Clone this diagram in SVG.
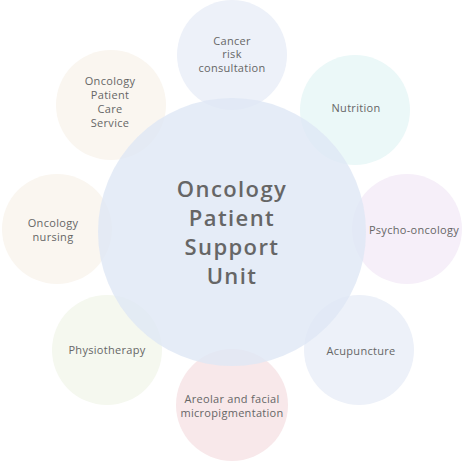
<svg xmlns="http://www.w3.org/2000/svg" width="464" height="464" viewBox="0 0 464 464">
<style>
text{font-family:"Open Sans","Liberation Sans",sans-serif;fill:#666;text-anchor:middle;dominant-baseline:central}
.s{font-size:11px;letter-spacing:0.3px}
.c{font-size:22px;font-weight:600;letter-spacing:1.4px}
</style>
<rect width="464" height="464" fill="#fff"/>
<g id="n-cancer"><circle cx="232" cy="55" r="55" fill="#edf1f9"/></g>
<g id="n-nutrition"><circle cx="355" cy="110" r="55" fill="#ebf8f8"/></g>
<g id="n-psycho"><circle cx="407" cy="229" r="55" fill="#f6eff9"/></g>
<g id="n-acup"><circle cx="359" cy="350" r="55" fill="#edf1f9"/></g>
<g id="n-areolar"><circle cx="232" cy="405" r="56" fill="#f8e8ea"/></g>
<g id="n-physio"><circle cx="107" cy="350" r="55" fill="#f5f8ef"/></g>
<g id="n-nursing"><circle cx="57" cy="229" r="55" fill="#faf6f0"/></g>
<g id="n-care"><circle cx="111" cy="105" r="55" fill="#faf6f0"/></g>
<g id="n-center"><circle cx="232" cy="232" r="134" fill="#dfe7f5" opacity="0.8"/></g>
<g id="connectors"></g>
<g id="labels">
<text class="s" x="232" y="40">Cancer</text>
<text class="s" x="232" y="53.5">risk</text>
<text class="s" x="232" y="67">consultation</text>
<text class="s" x="356" y="107">Nutrition</text>
<text class="s" x="414" y="229">Psycho-oncology</text>
<text class="s" x="361" y="350">Acupuncture</text>
<text class="s" x="232" y="398">Areolar and facial</text>
<text class="s" x="232" y="412">micropigmentation</text>
<text class="s" x="107" y="349">Physiotherapy</text>
<text class="s" x="53" y="222">Oncology</text>
<text class="s" x="53" y="236">nursing</text>
<text class="s" x="110" y="80">Oncology</text>
<text class="s" x="110" y="94">Patient</text>
<text class="s" x="110" y="108">Care</text>
<text class="s" x="110" y="122">Service</text>
<text class="c" x="232" y="188">Oncology</text>
<text class="c" x="232" y="217">Patient</text>
<text class="c" x="232" y="246">Support</text>
<text class="c" x="232" y="275">Unit</text>
</g>
</svg>
